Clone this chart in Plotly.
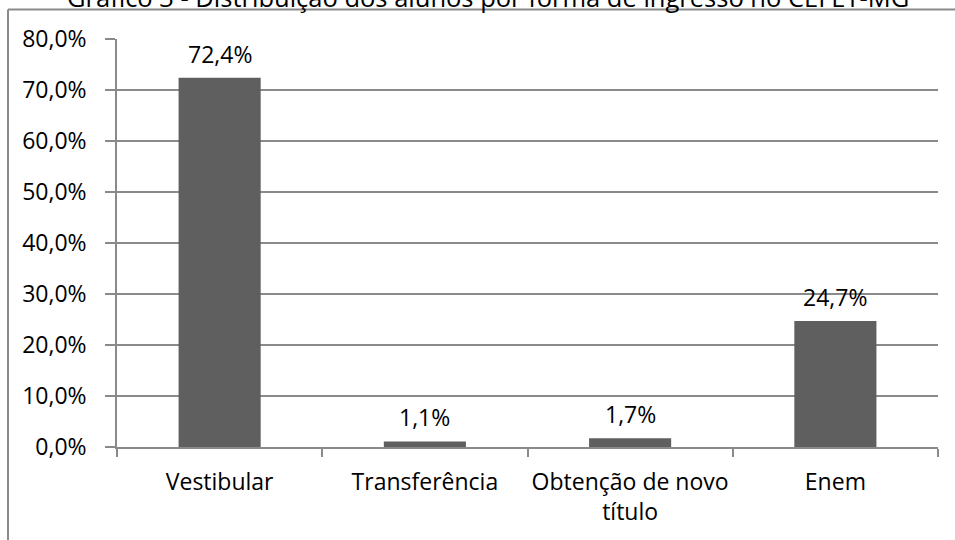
import plotly.graph_objects as go

# ---- data ----
categories = ["Vestibular", "Transferência", "Obtenção de novo<br>título", "Enem"]
percentages = [72.4, 1.1, 1.7, 24.7]
y_ticks = [0, 10, 20, 30, 40, 50, 60, 70, 80]
y_tick_labels = [f"{t:.1f}".replace(".", ",") + "%" for t in y_ticks]
title_text = "Gráfico 3 - Distribuição dos alunos por forma de ingresso no CEFET-MG"

# ---- layout constants (pixels) ----
W, H = 955, 540
ML, MR, MT, MB = 117, 17, 39, 93
PW = W - ML - MR
PH = H - MT - MB
FONT = "Open Sans, Lato, sans-serif"
FS = 23
TITLE_FS = 25.5
GRID = "#8a8a8a"
BAR = "#5f5f5f"


def px_x(px):
    return (px - ML) / PW


def px_y(py):
    return (H - MB - py) / PH


fig = go.Figure()
fig.add_trace(go.Bar(
    x=categories,
    y=percentages,
    marker=dict(color=BAR, line=dict(width=0)),
    width=0.4,
    hoverinfo="skip",
))

for c, v in zip(categories, percentages):
    fig.add_annotation(
        x=c, y=v, xref="x", yref="y",
        text=f"{v:.1f}".replace(".", ",") + "%",
        showarrow=False, yanchor="bottom", yshift=6,
        font=dict(family=FONT, size=FS, color="black"),
    )

# title, partly cut off at the top of the image
fig.add_annotation(
    x=px_x(488), xref="paper", y=px_y(-3), yref="paper",
    text=title_text, showarrow=False, xanchor="center", yanchor="middle",
    font=dict(family=FONT, size=TITLE_FS, color="black"),
)

# outer chart-area border (top and left edges visible)
fig.add_shape(type="line", xref="paper", yref="paper",
              x0=px_x(8), x1=px_x(W + 5), y0=px_y(9.5), y1=px_y(9.5),
              line=dict(color=GRID, width=2))
fig.add_shape(type="line", xref="paper", yref="paper",
              x0=px_x(8), x1=px_x(8), y0=px_y(9.5), y1=px_y(H + 5),
              line=dict(color=GRID, width=2))

fig.update_layout(
    width=W, height=H,
    margin=dict(l=ML, r=MR, t=MT, b=MB, pad=0, autoexpand=False),
    paper_bgcolor="white", plot_bgcolor="white",
    showlegend=False,
    font=dict(family=FONT, size=FS, color="black"),
    bargap=0.6,
)
fig.update_xaxes(
    type="category", tickson="boundaries",
    showline=True, linecolor=GRID, linewidth=1.5,
    ticks="outside", ticklen=8, tickcolor=GRID, tickwidth=1.5,
    showgrid=False, range=[-0.5, 3.5],
    tickangle=0, automargin=False,
    tickfont=dict(family=FONT, size=FS, color="black"),
    ticklabelstandoff=14,
)
fig.update_yaxes(
    range=[0, 80], tickmode="array", tickvals=y_ticks, ticktext=y_tick_labels,
    showline=True, linecolor=GRID, linewidth=1.5,
    ticks="outside", ticklen=10, tickcolor=GRID, tickwidth=1.5,
    showgrid=True, gridcolor=GRID, gridwidth=1.5,
    zeroline=False, automargin=False,
    tickfont=dict(family=FONT, size=FS, color="black"),
    ticklabelstandoff=14,
)

fig.write_html(
    "out.html",
    config={"displayModeBar": False},
    post_script="document.body.style.margin='0';document.body.style.overflow='hidden';",
)
